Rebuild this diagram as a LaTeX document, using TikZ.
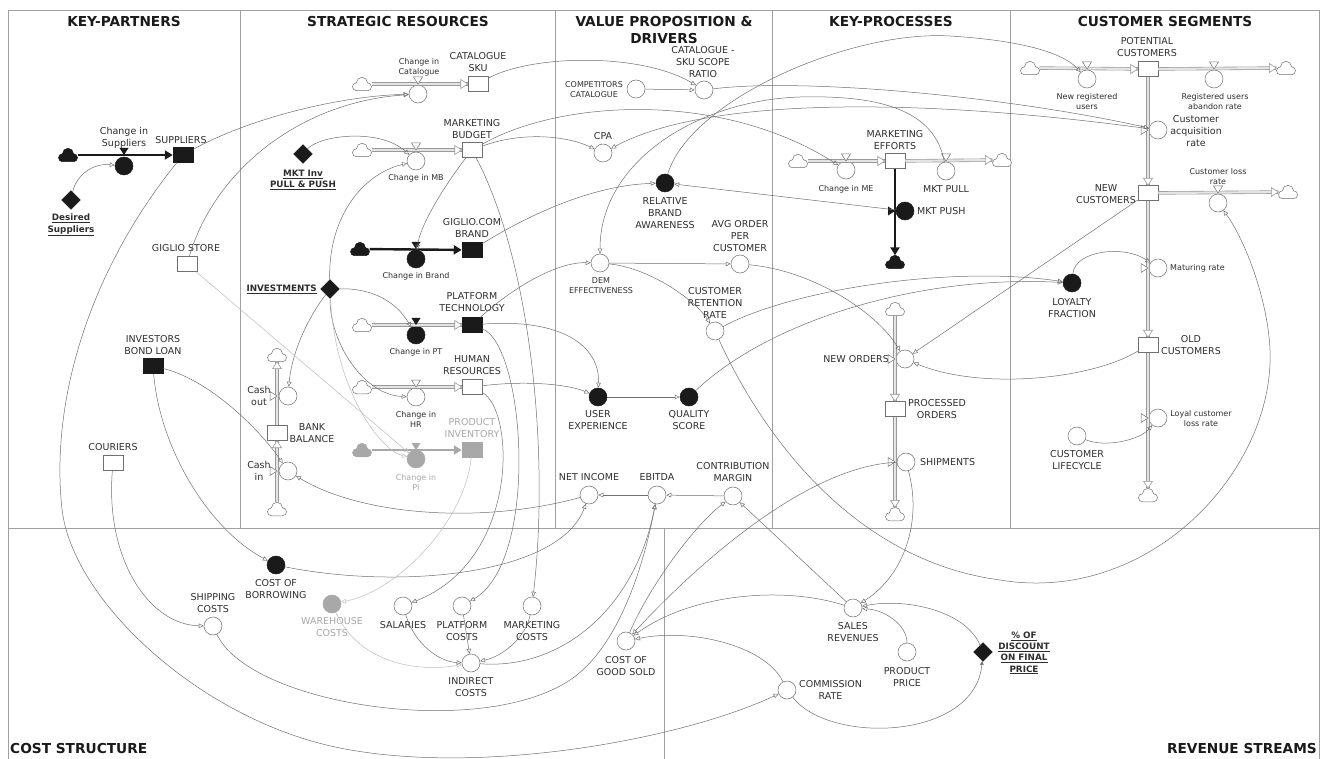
\documentclass[tikz,border=0pt]{standalone}
\usepackage{fontspec}
\setmainfont{DejaVu Sans}
\usetikzlibrary{shapes.geometric,arrows.meta}
\definecolor{linec}{HTML}{707070}
\definecolor{framec}{HTML}{A0A0A0}
\definecolor{txtc}{HTML}{2E2E2E}
\definecolor{grayel}{HTML}{A8A8A8}
\definecolor{grayline}{HTML}{BDBDBD}
\definecolor{pipec}{HTML}{9A9A9A}
\definecolor{pipein}{HTML}{E4E4E4}
\definecolor{blk}{HTML}{1A1A1A}
\newcommand{\lblN}{\fontsize{9.5}{11.7}\selectfont}
\newcommand{\lblS}{\fontsize{8}{10}\selectfont}
\newcommand{\lblH}{\fontsize{13.7}{17}\selectfont\bfseries}
\newcommand{\lblB}{\fontsize{8.8}{11.3}\selectfont\bfseries}
\newcommand{\cloudat}[3]{\node[skyn] (#1) at (#2) {}; \pic at (#2) {#3};}
\tikzset{
 aux/.style={circle, draw=linec, line width=0.5pt, fill=white, minimum size=18pt, inner sep=0pt},
 auxb/.style={aux, fill=blk, draw=blk},
 auxg/.style={aux, fill=grayel, draw=grayel},
 stock/.style={rectangle, draw=linec, line width=0.5pt, fill=white, minimum width=20pt, minimum height=15pt, inner sep=0pt},
 stockb/.style={stock, fill=blk, draw=blk},
 stockg/.style={stock, fill=grayel, draw=grayel},
 konst/.style={diamond, fill=blk, draw=blk, minimum size=19pt, inner sep=0pt},
 skyn/.style={rectangle, minimum width=19pt, minimum height=13pt, inner sep=0pt},
 cloudpath/.pic={\begin{scope}[x=1pt, y=1pt, shift={(0.5,-1.75)}]
   \path[pic actions] (-6,-5) arc[start angle=270, end angle=90, radius=4]
     arc[start angle=180, end angle=0, radius=5.5]
     arc[start angle=90, end angle=-90, radius=4] -- cycle;
   \end{scope}},
 sky/.pic={\pic[draw=linec, fill=white, line width=0.5pt] {cloudpath};},
 skyb/.pic={\pic[draw=blk, fill=blk, line width=0.5pt] {cloudpath};},
 skyg/.pic={\pic[draw=grayel, fill=grayel, line width=0.5pt] {cloudpath};},
 lab/.style={font=\lblN, text=txtc, align=center, inner sep=0pt},
 labs/.style={lab, font=\lblS},
 labg/.style={lab, text=grayel},
 labsg/.style={labs, text=grayel},
 labu/.style={font=\lblB, text=txtc, align=center, inner sep=0pt},
 hdr/.style={font=\lblH, text=blk, inner sep=0pt, align=center},
 pipe/.style={draw=pipec, line width=0.6pt, double=pipein, double distance=2.2pt},
 bpipe/.style={draw=blk, line width=2.4pt, -{Triangle[length=8pt, width=9pt]}},
 gpipe/.style={draw=grayel, line width=2.4pt, -{Triangle[length=8pt, width=9pt]}},
 conn/.style={draw=linec, line width=0.5pt, -{Triangle[open, length=5pt, width=4.5pt]}},
 gconn/.style={conn, draw=grayline},
 gridline/.style={draw=framec, line width=0.7pt},
 ptip/.pic={\draw[draw=pipec, fill=white, line width=0.6pt] (-7,-4.5) -- (0,0) -- (-7,4.5) -- cycle;},
 vtri/.pic={\draw[draw=linec, fill=white, line width=0.5pt] (-4.5,-7) -- (4.5,-7) -- (0,0) -- cycle;},
 vtrib/.pic={\fill[blk] (-4.5,-7) -- (4.5,-7) -- (0,0) -- cycle;},
 vtrig/.pic={\fill[grayel] (-4.5,-7) -- (4.5,-7) -- (0,0) -- cycle;},
}
\begin{document}
\begin{tikzpicture}[x=1pt, y=-1pt]
\useasboundingbox (0,0) rectangle (1323,759);
\fill[white] (0,0) rectangle (1323,759);
% ---------- frame
\draw[gridline] (8,759) -- (8,10) -- (1319,10) -- (1319,759);
\draw[gridline] (8,528) -- (1319,528);
\foreach \xx in {240,555,772,1010} \draw[gridline] (\xx,10) -- (\xx,528);
\draw[gridline] (664,528) -- (664,759);
% ---------- headings
\node[hdr] (h1) at (124,22) {KEY-PARTNERS};
\node[hdr] (h2) at (398,22) {STRATEGIC RESOURCES};
\node[hdr] (h3) at (664,30) {VALUE PROPOSITION \&\\DRIVERS};
\node[hdr] (h4) at (891,22) {KEY-PROCESSES};
\node[hdr] (h5) at (1165,22) {CUSTOMER SEGMENTS};
\node[hdr, anchor=west] (h6) at (10,749) {COST STRUCTURE};
\node[hdr, anchor=east] (h7) at (1317,749) {REVENUE STREAMS};
% ---------- key partners
\cloudat{csup}{68,155}{skyb}
\node[auxb] (vsup) at (124,166) {};
\node[stockb] (sup) at (183,155) {};
\node[lab] (lsup) at (181,140) {SUPPLIERS};
\node[lab] (lvsup) at (124,138) {Change in\\Suppliers};
\node[konst] (dsup) at (71,200) {};
\node[labu] (ldsup) at (71,225) {\underline{Desired}\\\underline{Suppliers}};
\node[stock] (gst) at (187,264) {};
\node[lab] (lgst) at (186,248) {GIGLIO STORE};
\node[stockb] (ibl) at (153,366) {};
\node[lab] (libl) at (153,345) {INVESTORS\\BOND LOAN};
\node[stock] (cour) at (113,463) {};
\node[lab] (lcour) at (113,447) {COURIERS};
% ---------- strategic resources
\cloudat{ccat}{362,84}{sky}
\node[aux] (vcat) at (418,94) {};
\node[stock] (catsku) at (478,84) {};
\node[labs] (lvcat) at (419,67) {Change in\\Catalogue};
\node[lab] (lcatsku) at (478,62) {CATALOGUE\\SKU};
\cloudat{cmb}{362,150}{sky}
\node[aux] (vmb) at (416,161) {};
\node[stock] (mb) at (472,150) {};
\node[labs] (lvmb) at (416,178) {Change in MB};
\node[lab] (lmb) at (472,129) {MARKETING\\BUDGET};
\node[konst] (mktinv) at (303,154) {};
\node[labu] (lmktinv) at (303,180) {\underline{MKT Inv}\\\underline{PULL \& PUSH}};
\cloudat{cbr}{360,249}{skyb}
\node[auxb] (vbr) at (416,259) {};
\node[stockb] (gbrand) at (472,250) {};
\node[labs] (lvbr) at (416,276) {Change in Brand};
\node[lab] (lgbrand) at (472,228) {GIGLIO.COM\\BRAND};
\node[konst] (inv) at (330,289) {};
\node[labu, anchor=east] (linv) at (317,289) {\underline{INVESTMENTS}};
\cloudat{cpt}{362,325}{sky}
\node[auxb] (vpt) at (416,335) {};
\node[stockb] (pt) at (472,325) {};
\node[labs] (lvpt) at (416,352) {Change in PT};
\node[lab] (lpt) at (472,302) {PLATFORM\\TECHNOLOGY};
\cloudat{chr}{362,387}{sky}
\node[aux] (vhr) at (416,397) {};
\node[stock] (hr) at (472,387) {};
\node[labs] (lvhr) at (416,419) {Change in\\HR};
\node[lab] (lhr) at (472,365) {HUMAN\\RESOURCES};
\cloudat{cpi}{362,450}{skyg}
\node[auxg] (vpi) at (416,459) {};
\node[stockg] (pinv) at (472,450) {};
\node[labsg] (lvpi) at (416,482) {Change in\\PI};
\node[labg] (lpinv) at (472,428) {PRODUCT\\INVENTORY};
\node[stock] (bank) at (277,433) {};
\node[lab] (lbank) at (312,433) {BANK\\BALANCE};
\cloudat{ccout}{277,355}{sky}
\cloudat{ccin}{277,509}{sky}
\node[aux] (vcout) at (288,396) {};
\node[aux] (vcin) at (288,471) {};
\node[lab] (lvcout) at (259,396) {Cash\\out};
\node[lab] (lvcin) at (259,471) {Cash\\in};
% ---------- value proposition
\node[aux] (compcat) at (636,89) {};
\node[labs] (lcompcat) at (594,90) {COMPETITORS\\CATALOGUE};
\node[aux] (ratio) at (704,90) {};
\node[lab] (lratio) at (703,62) {CATALOGUE -\\SKU SCOPE\\RATIO};
\node[aux] (cpa) at (603,153) {};
\node[lab] (lcpa) at (603,136) {CPA};
\node[auxb] (rba) at (665,183) {};
\node[lab] (lrba) at (665,213) {RELATIVE\\BRAND\\AWARENESS};
\node[aux] (avg) at (740,264) {};
\node[lab] (lavg) at (740,236) {AVG ORDER\\PER\\CUSTOMER};
\node[aux] (dem) at (600,263) {};
\node[labs] (ldem) at (601,286) {DEM\\EFFECTIVENESS};
\node[aux] (crr) at (715,331) {};
\node[lab] (lcrr) at (715,303) {CUSTOMER\\RETENTION\\RATE};
\node[auxb] (ux) at (598,397) {};
\node[lab] (lux) at (598,420) {USER\\EXPERIENCE};
\node[auxb] (qs) at (689,397) {};
\node[lab] (lqs) at (689,420) {QUALITY\\SCORE};
\node[aux] (ni) at (589,495) {};
\node[lab] (lni) at (589,477) {NET INCOME};
\node[aux] (ebitda) at (657,495) {};
\node[lab] (lebitda) at (657,477) {EBITDA};
\node[aux] (cm) at (733,496) {};
\node[lab] (lcm) at (733,472) {CONTRIBUTION\\MARGIN};
% ---------- key processes
\cloudat{cme}{798,161}{sky}
\node[aux] (vme) at (846,170) {};
\node[stock] (me) at (895,161) {};
\node[labs] (lvme) at (846,189) {Change in ME};
\node[lab] (lme) at (895,140) {MARKETING\\EFFORTS};
\node[aux] (vpull) at (946,171) {};
\node[lab] (lvpull) at (946,189) {MKT PULL};
\cloudat{cpull}{1002,160}{sky}
\node[auxb] (vpush) at (905,211) {};
\node[lab, anchor=west] (lvpush) at (917,211) {MKT PUSH};
\cloudat{cpush}{895,262}{skyb}
\cloudat{cno}{895,309}{sky}
\node[aux] (vno) at (905,359) {};
\node[lab, anchor=east] (lvno) at (889,359) {NEW ORDERS};
\node[stock] (po) at (895,409) {};
\node[lab] (lpo) at (937,409) {PROCESSED\\ORDERS};
\node[aux] (vship) at (906,462) {};
\node[lab, anchor=west] (lvship) at (920,462) {SHIPMENTS};
\cloudat{cship}{895,514}{sky}
% ---------- customer segments
\cloudat{cnru}{1030,68}{sky}
\node[aux] (vnru) at (1087,79) {};
\node[stock] (pc) at (1148,69) {};
\node[labs] (lvnru) at (1087,102) {New registered\\users};
\node[lab] (lpc) at (1147,47) {POTENTIAL\\CUSTOMERS};
\node[aux] (vura) at (1214,79) {};
\node[labs] (lvura) at (1215,102) {Registered users\\abandon rate};
\cloudat{cura}{1286,68}{sky}
\node[aux] (vcar) at (1158,130) {};
\node[lab] (lvcar) at (1196,131) {Customer\\acquisition\\rate};
\node[stock] (nc) at (1148,193) {};
\node[lab] (lnc) at (1106,194) {NEW\\CUSTOMERS};
\node[aux] (vcl) at (1218,203) {};
\node[labs] (lvcl) at (1218,177) {Customer loss\\rate};
\cloudat{ccl}{1288,192}{sky}
\node[aux] (vmat) at (1158,268) {};
\node[labs, anchor=west] (lvmat) at (1170,268) {Maturing rate};
\node[auxb] (lf) at (1072,283) {};
\node[lab] (llf) at (1072,308) {LOYALTY\\FRACTION};
\node[stock] (oc) at (1148,345) {};
\node[lab] (loc) at (1191,345) {OLD\\CUSTOMERS};
\node[aux] (vloy) at (1158,418) {};
\node[labs] (lvloy) at (1201,419) {Loyal customer\\loss rate};
\cloudat{cloy}{1148,495}{sky}
\node[aux] (clc) at (1077,436) {};
\node[lab] (lclc) at (1077,460) {CUSTOMER\\LIFECYCLE};
% ---------- cost structure
\node[auxb] (cob) at (276,565) {};
\node[lab] (lcob) at (276,589) {COST OF\\BORROWING};
\node[aux] (shipc) at (213,626) {};
\node[lab] (lshipc) at (213,603) {SHIPPING\\COSTS};
\node[auxg] (whc) at (332,604) {};
\node[labg] (lwhc) at (332,627) {WAREHOUSE\\COSTS};
\node[aux] (sal) at (403,606) {};
\node[lab] (lsal) at (403,625) {SALARIES};
\node[aux] (pcost) at (462,606) {};
\node[lab] (lpcost) at (462,631) {PLATFORM\\COSTS};
\node[aux] (mcost) at (532,606) {};
\node[lab] (lmcost) at (532,631) {MARKETING\\COSTS};
\node[aux] (ind) at (471,663) {};
\node[lab] (lind) at (471,687) {INDIRECT\\COSTS};
\node[aux] (cogs) at (626,641) {};
\node[lab] (lcogs) at (626,666) {COST OF\\GOOD SOLD};
% ---------- revenue streams
\node[aux] (sr) at (853,608) {};
\node[lab] (lsr) at (853,632) {SALES\\REVENUES};
\node[aux] (pp) at (907,652) {};
\node[lab] (lpp) at (907,677) {PRODUCT\\PRICE};
\node[aux] (comm) at (787,690) {};
\node[lab, anchor=west] (lcomm) at (799,690) {COMMISSION\\RATE};
\node[konst] (disc) at (983,652) {};
\node[labu] (ldisc) at (1024,653) {\underline{\% OF}\\\underline{DISCOUNT}\\\underline{ON FINAL}\\\underline{PRICE}};
% ========== pipes (flows)
\draw[bpipe] (csup) -- (sup);
\pic at (124,155) {vtrib};
\draw[pipe] (ccat) -- (catsku); \pic at (catsku.west) {ptip}; \pic at (418,84) {vtri};
\draw[pipe] (cmb) -- (mb); \pic at (mb.west) {ptip}; \pic at (416,150) {vtri};
\draw[bpipe] (cbr) -- (gbrand); \pic at (416,249) {vtrib};
\draw[pipe] (cpt) -- (pt); \pic at (pt.west) {ptip}; \pic at (416,325) {vtrib};
\draw[pipe] (chr) -- (hr); \pic at (hr.west) {ptip}; \pic at (416,387) {vtri};
\draw[gpipe] (cpi) -- (pinv); \pic at (416,450) {vtrig};
\draw[pipe] (ccin) -- (bank); \pic[rotate=90] at (bank.south) {ptip};
\draw[pipe] (bank) -- (ccout); \pic[rotate=90] at (ccout.south) {ptip};
\pic[rotate=90] at (277,396) {vtri}; \pic[rotate=90] at (277,471) {vtri};
\draw[pipe] (cme) -- (me); \pic at (me.west) {ptip}; \pic at (846,161) {vtri};
\draw[pipe] (me) -- (cpull); \pic at (cpull.west) {ptip}; \pic at (946,161) {vtri};
\draw[bpipe] (me) -- (cpush); \pic[rotate=90] at (895,211) {vtrib};
\draw[pipe] (cno) -- (po); \pic[rotate=-90] at (po.north) {ptip}; \pic[rotate=90] at (895,359) {vtri};
\draw[pipe] (po) -- (cship); \pic[rotate=-90] at (cship.north) {ptip}; \pic[rotate=90] at (895,462) {vtri};
\draw[pipe] (cnru) -- (pc); \pic at (pc.west) {ptip}; \pic at (1087,69) {vtri};
\draw[pipe] (pc) -- (cura); \pic at (cura.west) {ptip}; \pic at (1214,69) {vtri};
\draw[pipe] (pc) -- (nc); \pic[rotate=-90] at (nc.north) {ptip}; \pic[rotate=90] at (1148,130) {vtri};
\draw[pipe] (nc) -- (ccl); \pic at (ccl.west) {ptip}; \pic at (1218,193) {vtri};
\draw[pipe] (nc) -- (oc); \pic[rotate=-90] at (oc.north) {ptip}; \pic[rotate=90] at (1148,268) {vtri};
\draw[pipe] (oc) -- (cloy); \pic[rotate=-90] at (cloy.north) {ptip}; \pic[rotate=90] at (1148,418) {vtri};
% ========== connectors
\draw[conn] (dsup) .. controls (76,176) and (92,163) .. (vsup);
\draw[conn] (sup) .. controls (250,118) and (340,96) .. (vcat);
\draw[conn] (gst) .. controls (215,170) and (300,102) .. (vcat);
\draw[conn] (sup) .. controls (90,270) and (50,400) .. (62,509) .. controls (72,600) and (200,720) .. (340,748) .. controls (480,776) and (680,740) .. (comm);
\draw[conn] (cour) .. controls (105,560) and (150,625) .. (shipc);
\draw[conn] (shipc) .. controls (250,705) and (480,740) .. (570,680) .. controls (620,647) and (645,560) .. (ebitda);
\draw[conn] (ind) .. controls (560,670) and (635,610) .. (ebitda);
\draw[conn] (cm) -- (ebitda);
\draw[conn] (ebitda) -- (ni);
\draw[conn] (ni) .. controls (480,525) and (360,515) .. (vcin);
\draw[conn] (cob) .. controls (400,590) and (560,575) .. (ni);
\draw[conn] (ibl) .. controls (160,450) and (210,530) .. (cob);
\draw[conn] (ibl) .. controls (210,380) and (260,430) .. (vcin);
\draw[gconn] (pinv) .. controls (465,520) and (400,590) .. (whc);
\draw[gconn] (whc) .. controls (360,665) and (420,672) .. (ind);
\draw[conn] (sal) .. controls (415,645) and (440,662) .. (ind);
\draw[conn] (pcost) -- (ind);
\draw[conn] (mcost) .. controls (525,640) and (500,657) .. (ind);
\draw[conn] (hr) .. controls (515,410) and (520,560) .. (sal);
\draw[conn] (pt) .. controls (525,345) and (540,560) .. (pcost);
\draw[conn] (mb) .. controls (530,260) and (550,450) .. (mcost);
\draw[conn] (mb) .. controls (520,132) and (565,135) .. (cpa);
\draw[conn] (mb) .. controls (445,185) and (420,225) .. (vbr);
\draw[conn] (mb) .. controls (560,100) and (720,90) .. (vme);
\draw[conn] (mktinv) .. controls (320,135) and (380,128) .. (vmb);
\draw[conn] (inv) .. controls (328,220) and (360,175) .. (vmb);
\draw[conn] (inv) .. controls (370,288) and (395,300) .. (vpt);
\draw[conn] (inv) .. controls (330,345) and (365,395) .. (vhr);
\draw[gconn] (inv) .. controls (335,390) and (380,450) .. (vpi);
\draw[conn] (inv) .. controls (310,315) and (292,350) .. (vcout);
\draw[gconn] (gst) -- (vpi);
\draw[conn] (catsku) .. controls (530,55) and (640,52) .. (ratio);
\draw[conn] (compcat) -- (ratio);
\draw[conn] (ratio) .. controls (800,78) and (1000,95) .. (vcar);
\draw[conn] (vcar) .. controls (900,95) and (700,100) .. (cpa);
\draw[conn] (rba) .. controls (690,100) and (850,30) .. (950,36) .. controls (1030,41) and (1065,55) .. (vnru);
\draw[conn] (vpush) -- (rba);
\draw[conn] (gbrand) .. controls (540,208) and (600,185) .. (rba);
\draw[conn] (vpull) .. controls (935,110) and (880,95) .. (800,97) .. controls (700,100) and (600,160) .. (dem);
\draw[conn] (pt) .. controls (510,290) and (555,262) .. (dem);
\draw[conn] (pt) .. controls (560,318) and (600,345) .. (ux);
\draw[conn] (hr) .. controls (530,380) and (570,385) .. (ux);
\draw[conn] (ux) -- (qs);
\draw[conn] (dem) -- (avg);
\draw[conn] (dem) .. controls (650,268) and (695,300) .. (crr);
\draw[conn] (avg) .. controls (810,270) and (875,310) .. (vno);
\draw[conn] (crr) .. controls (790,290) and (950,265) .. (lf);
\draw[conn] (qs) .. controls (770,320) and (920,275) .. (lf);
\draw[conn] (nc) -- (vno);
\draw[conn] (oc) .. controls (1090,380) and (980,390) .. (vno);
\draw[conn] (lf) .. controls (1075,250) and (1125,245) .. (vmat);
\draw[conn] (clc) .. controls (1105,448) and (1140,440) .. (vloy);
\draw[conn] (crr) .. controls (760,430) and (850,560) .. (1000,580) .. controls (1150,605) and (1275,470) .. (1270,350) .. controls (1268,300) and (1245,240) .. (vcl);
\draw[conn] (vship) .. controls (820,465) and (720,540) .. (cogs);
\draw[conn] (vship) .. controls (922,520) and (905,575) .. (sr);
\draw[conn] (sr) .. controls (780,585) and (690,595) .. (cogs);
\draw[conn] (comm) .. controls (765,645) and (690,628) .. (cogs);
\draw[conn] (sr) -- (cm);
\draw[conn] (cogs) .. controls (650,585) and (695,525) .. (cm);
\draw[conn] (pp) .. controls (907,625) and (885,610) .. (sr);
\draw[conn] (disc) .. controls (965,610) and (905,598) .. (sr);
\draw[draw=linec, line width=0.5pt, -{Triangle[length=4pt, width=3.5pt]}] (comm) .. controls (830,745) and (975,740) .. (disc);
\end{tikzpicture}
\end{document}
